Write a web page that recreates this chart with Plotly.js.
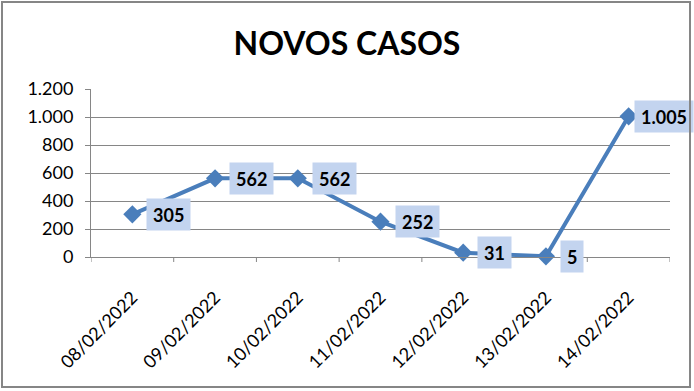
<!DOCTYPE html>
<html>
<head>
<meta charset="utf-8">
<script src="https://cdn.plot.ly/plotly-3.0.1.min.js"></script>
<style>
  html, body { margin: 0; padding: 0; background: #fff; }
  #wrap { position: relative; width: 694px; height: 391px; }
  #chart { width: 694px; height: 391px; }
  #frame { position: absolute; left: 1px; top: 1px; width: 686px; height: 383px;
           border: 2px solid #868686; pointer-events: none; }
</style>
</head>
<body>
<div id="wrap">
  <div id="chart"></div>
  <div id="frame"></div>
</div>
<script>
const categories = ["08/02/2022", "09/02/2022", "10/02/2022", "11/02/2022", "12/02/2022", "13/02/2022", "14/02/2022"];
const values = [305, 562, 562, 252, 31, 5, 1005];
const yTickValues = [0, 200, 400, 600, 800, 1000, 1200];
const chartTitle = "NOVOS CASOS";

function fmt(n) {
  return String(n).replace(/\B(?=(\d{3})+(?!\d))/g, ".");
}

const FONT = "Lato, 'Open Sans', 'Noto Sans', sans-serif";
const lineColor = "#4a7ebb";

const annotations = categories.map((c, i) => ({
  x: i, y: values[i], xref: "x", yref: "y",
  text: "<b>" + fmt(values[i]) + "</b>",
  showarrow: false,
  xanchor: "left", yanchor: "middle",
  xshift: (i === categories.length - 1) ? 5 : 14,
  bgcolor: "#c3d4ef",
  borderpad: 6,
  height: 19,
  font: { family: FONT, size: 18, color: "#000" }
}));

const trace = {
  x: categories.map((c, i) => i),
  y: values,
  type: "scatter",
  mode: "lines+markers",
  line: { color: lineColor, width: 4 },
  marker: { symbol: "diamond", size: 14, color: lineColor },
  hoverinfo: "skip",
  cliponaxis: false
};

const layout = {
  width: 694, height: 391,
  margin: { l: 91, r: 24, t: 89, b: 134 },
  paper_bgcolor: "#fff", plot_bgcolor: "#fff",
  showlegend: false,
  separators: ",.",
  title: {
    text: "<b>" + chartTitle + "</b>",
    font: { family: FONT, size: 32, color: "#000" },
    x: 0.5, xanchor: "center", xref: "container",
    y: 1 - 44 / 391, yanchor: "middle", yref: "container"
  },
  xaxis: {
    range: [-0.5, 6.5],
    tickmode: "array",
    tickvals: categories.map((c, i) => i),
    ticktext: categories,
    tickangle: -45,
    ticks: "",
    ticklabelstandoff: 22,
    showgrid: false,
    zeroline: false,
    showline: true, linecolor: "#868686", linewidth: 1,
    tickfont: { family: FONT, size: 18, color: "#000" },
    fixedrange: true
  },
  yaxis: {
    range: [0, 1200],
    tickmode: "array",
    tickvals: yTickValues,
    ticktext: yTickValues.map(fmt),
    showgrid: true, gridcolor: "#868686", gridwidth: 1,
    zeroline: false,
    showline: true, linecolor: "#868686", linewidth: 1,
    ticks: "outside", ticklen: 5, tickcolor: "#868686", tickwidth: 1,
    ticklabelstandoff: 8,
    tickfont: { family: FONT, size: 18, color: "#000" },
    fixedrange: true
  },
  shapes: categories.concat([""]).map((c, i) => ({
    type: "line", xref: "x", yref: "paper",
    x0: i - 0.5, x1: i - 0.5, y0: 0, y1: -5 / 168,
    line: { color: "#868686", width: 1 }
  })),
  annotations: annotations
};

Plotly.newPlot("chart", [trace], layout, { displayModeBar: false, staticPlot: true });
</script>
</body>
</html>
